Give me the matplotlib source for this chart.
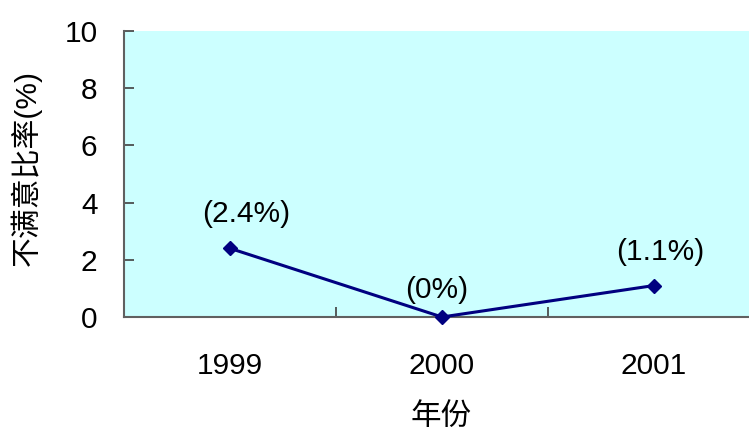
import matplotlib
matplotlib.use("Agg")
import matplotlib.pyplot as plt

years = ["1999", "2000", "2001"]
rates = [2.4, 0.0, 1.1]
point_labels = ["(2.4%)", "(0%)", "(1.1%)"]
label_offsets = [(11.5, 24.5), (-3.6, 19.4), (4.3, 24.5)]
y_ticks = [0, 2, 4, 6, 8, 10]

plt.rcParams["font.family"] = ["Liberation Sans", "Noto Sans CJK SC", "DejaVu Sans"]

W, H = 749, 434
fig = plt.figure(figsize=(W / 100, H / 100), dpi=100)
left, right, top, bottom = 124, 760, 31, 317
ax = fig.add_axes([left / W, 1 - bottom / H, (right - left) / W, (bottom - top) / H])
ax.set_facecolor("#CCFFFF")

x = list(range(len(years)))
ax.plot(x, rates, color="#000080", lw=2.2, marker="D", ms=7.5,
        markerfacecolor="#000080", markeredgecolor="#000080", clip_on=False, zorder=3)

FS = 21.5
for xi, yi, txt, off in zip(x, rates, point_labels, label_offsets):
    ax.annotate(txt, (xi, yi), xytext=off, textcoords="offset points",
                ha="center", va="center", fontsize=FS, color="black")

ax.set_xlim(-0.5, len(years) - 0.5)
ax.set_ylim(0, 10)
ax.set_yticks(y_ticks)
ax.set_xticks(x)
ax.set_xticklabels(years)
ax.set_xticks([i + 0.5 for i in x[:-1]], minor=True)

for s in ["top", "right"]:
    ax.spines[s].set_visible(False)
for s in ["left", "bottom"]:
    ax.spines[s].set_color("#606060")
    ax.spines[s].set_linewidth(1.5)

ax.tick_params(axis="y", direction="in", length=7, width=1.2, color="#404040",
               labelsize=FS, pad=19)
ax.tick_params(axis="x", which="major", length=0, labelsize=FS, pad=25)
ax.tick_params(axis="x", which="minor", direction="in", length=7, width=1.2, color="#404040")

ax.set_ylabel("不满意比率(%)", fontsize=FS)
ax.yaxis.set_label_coords(-0.129, 0.521)
ax.set_xlabel("年份", fontsize=22)
ax.xaxis.set_label_coords(0.498, -0.298)

fig.savefig("out.png", dpi=100)
